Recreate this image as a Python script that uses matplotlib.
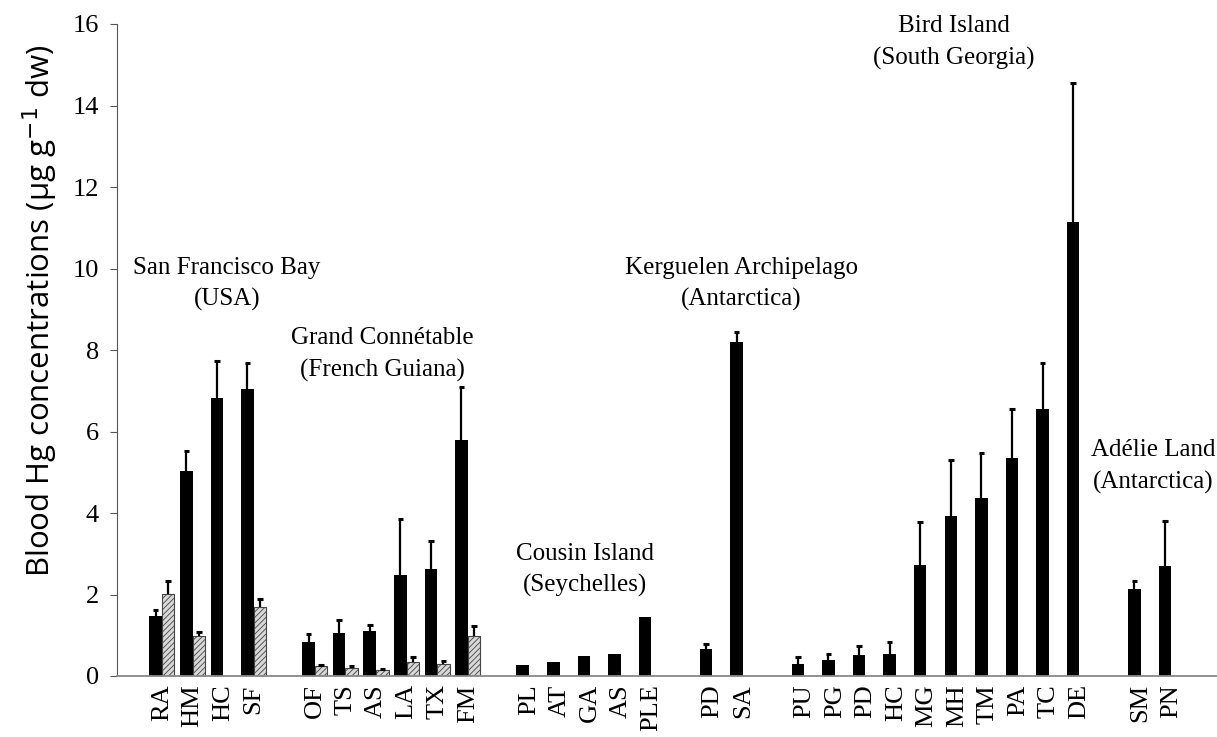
import numpy as np
import matplotlib
matplotlib.use("Agg")
from matplotlib import pyplot as plt

# species codes, one per category slot ('' = gap between sites)
labels = ['', 'RA', 'HM', 'HC', 'SF', '',
          'OF', 'TS', 'AS', 'LA', 'TX', 'FM', '',
          'PL', 'AT', 'GA', 'AS', 'PLE', '',
          'PD', 'SA', '',
          'PU', 'PG', 'PD', 'HC', 'MG', 'MH', 'TM', 'PA', 'TC', 'DE', '',
          'SM', 'PN', '']

# black bars (blood Hg) and their SD
black_vals = [None, 1.47, 5.04, 6.81, 7.04, None,
              0.83, 1.05, 1.10, 2.48, 2.63, 5.79, None,
              0.27, 0.35, 0.49, 0.53, 1.44, None,
              0.66, 8.20, None,
              0.29, 0.40, 0.51, 0.54, 2.72, 3.93, 4.37, 5.36, 6.56, 11.14, None,
              2.13, 2.69, None]
black_err = [None, 0.16, 0.47, 0.92, 0.65, None,
             0.20, 0.32, 0.16, 1.38, 0.68, 1.29, None,
             0, 0, 0, 0, 0, None,
             0.12, 0.24, None,
             0.17, 0.15, 0.23, 0.30, 1.06, 1.37, 1.11, 1.19, 1.11, 3.41, None,
             0.20, 1.11, None]

# hatched grey bars (second series, only two sites)
grey_vals = [None, 2.02, 0.98, None, 1.69, None,
             0.25, 0.20, 0.15, 0.34, 0.29, 0.98] + [None] * 24
grey_err = [None, 0.30, 0.10, None, 0.19, None,
            0.02, 0.05, 0.01, 0.13, 0.09, 0.24] + [None] * 24

sites = ['San Francisco Bay\n(USA)', 'Grand Connétable\n(French Guiana)',
         'Cousin Island\n(Seychelles)', 'Kerguelen Archipelago\n(Antarctica)',
         'Bird Island\n(South Georgia)', 'Adélie Land\n(Antarctica)']
site_x = [2.12, 7.22, 13.82, 18.95, 25.9, 32.4]
site_y = [9.62, 7.88, 2.6, 9.62, 15.55, 5.15]

plt.rcParams['font.family'] = ['Liberation Serif', 'DejaVu Serif']
plt.rcParams['hatch.color'] = '#555555'
plt.rcParams['hatch.linewidth'] = 0.6

fig = plt.figure(figsize=(12.17, 7.37), dpi=100)
ax = fig.add_axes([117/1217, 1 - 676/737, 1100/1217, 652/737])

x = np.arange(len(labels)) - 1
w = 0.41
cap = 0.09

def draw(vals, errs, off, **kw):
    idx = [i for i, v in enumerate(vals) if v is not None]
    xs = x[idx] + off
    ys = np.array([vals[i] for i in idx])
    es = np.array([errs[i] for i in idx])
    ax.bar(xs, ys, width=w, zorder=2, **kw)
    m = es > 0
    ax.vlines(xs[m], ys[m], ys[m] + es[m], color='black', lw=1.6, zorder=3)
    ax.hlines(ys[m] + es[m], xs[m] - cap, xs[m] + cap, color='black', lw=2.2, zorder=3)

draw(black_vals, black_err, -w / 2, color='black')
draw(grey_vals, grey_err, w / 2, facecolor='#d8d8d8', edgecolor='#444444',
     linewidth=0.8, hatch='//////')

for s, sx, sy in zip(sites, site_x, site_y):
    ax.text(sx, sy, s, ha='center', va='center', fontsize=18, linespacing=1.55)

ax.set_xlim(-1.47, 34.5)
ax.set_ylim(0, 16)
ax.set_yticks(range(0, 17, 2))
ax.set_xticks(x[1:-1])
ax.set_xticklabels(labels[1:-1], rotation=90, fontsize=19)
ax.tick_params(axis='x', length=0, pad=6)
ax.tick_params(axis='y', labelsize=19, length=5, color='#555555', pad=8)
ax.spines['top'].set_visible(False)
ax.spines['right'].set_visible(False)
ax.spines['left'].set_color('#555555')
ax.spines['bottom'].set_color('#888888')
ax.spines['bottom'].set_linewidth(1.3)

fig.text(40/1217, 1 - 311/737, 'Blood Hg concentrations (μg g$^{-1}$ dw)',
         family=['Open Sans', 'DejaVu Sans'], fontsize=22.5,
         rotation=90, ha='center', va='center')

fig.savefig('out.png', dpi=100)
